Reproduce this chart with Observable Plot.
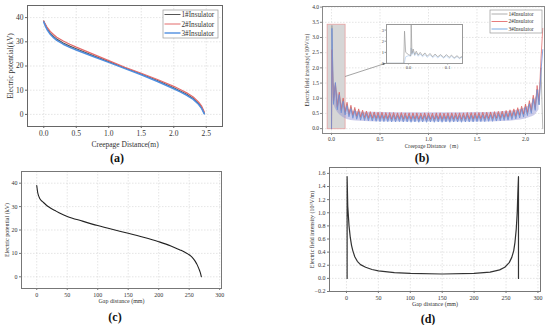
<!DOCTYPE html>
<html><head><meta charset="utf-8">
<script src="https://cdn.jsdelivr.net/npm/d3@7"></script>
<script src="https://cdn.jsdelivr.net/npm/@observablehq/plot@0.6"></script>
<style>
body{margin:0;background:#fff;}
#root{position:relative;width:550px;height:325px;overflow:hidden;font-family:"Liberation Serif","Times New Roman",serif;}
#root svg, #root svg text{font-family:"Liberation Serif","Times New Roman",serif !important;}
</style></head><body><div id="root"></div>
<script>
// ---------- data (a) ----------
const distA = [0, 0.02, 0.05, 0.1, 0.15, 0.2, 0.3, 0.4, 0.5, 0.75, 1.0, 1.25, 1.5, 1.75, 2.0, 2.1, 2.2, 2.3, 2.38, 2.43, 2.47];
const potA1 = [38.5, 37.2, 35.6, 33.6, 32.2, 31.1, 29.5, 28.2, 27.1, 24.4, 21.8, 19.2, 16.7, 14.0, 11.0, 9.7, 8.3, 6.6, 4.6, 2.8, 0.5];
const potA2 = [38.6, 37.5, 36.1, 34.3, 33.0, 31.9, 30.3, 29.0, 27.8, 25.0, 22.2, 19.5, 17.0, 14.4, 11.6, 10.3, 8.9, 7.2, 5.2, 3.4, 1.0];
const potA3 = [38.2, 36.8, 35.1, 33.1, 31.7, 30.6, 29.0, 27.7, 26.6, 24.0, 21.5, 18.9, 16.4, 13.6, 10.6, 9.3, 7.9, 6.2, 4.2, 2.4, 0.2];
const ticksAx = [0, 0.5, 1.0, 1.5, 2.0, 2.5];
const ticksAy = [0, 10, 20, 30, 40];
const seriesNames = ["1#Insulator", "2#Insulator", "3#Insulator"];

// ---------- data (b) ----------
const distB = [0.000, 0.004,
  0.02,0.04,0.06,0.08,0.10,0.12,0.14,0.16,0.18,0.20,
  0.22,0.24,0.26,0.28,0.30,0.32,0.34,0.36,0.38,0.40,
  0.42,0.44,0.46,0.48,0.50,0.52,0.54,0.56,0.58,0.60,
  0.62,0.64,0.66,0.68,0.70,0.72,0.74,0.76,0.78,0.80,
  0.82,0.84,0.86,0.88,0.90,0.92,0.94,0.96,0.98,1.00,
  1.02,1.04,1.06,1.08,1.10,1.12,1.14,1.16,1.18,1.20,
  1.22,1.24,1.26,1.28,1.30,1.32,1.34,1.36,1.38,1.40,
  1.42,1.44,1.46,1.48,1.50,1.52,1.54,1.56,1.58,1.60,
  1.62,1.64,1.66,1.68,1.70,1.72,1.74,1.76,1.78,1.80,
  1.82,1.84,1.86,1.88,1.90,1.92,1.94,1.96,1.98,2.00,
  2.02,2.04,2.06,2.08,2.10,2.12,2.14,
  2.160, 2.178];
const fieldB1 = [0.00, 3.40,
  0.85,1.45,0.68,1.15,0.58,0.96,0.50,0.82,0.44,0.72,
  0.40,0.65,0.36,0.60,0.34,0.56,0.32,0.53,0.31,0.51,
  0.30,0.50,0.29,0.49,0.28,0.49,0.28,0.48,0.28,0.48,
  0.27,0.48,0.27,0.47,0.28,0.48,0.27,0.47,0.27,0.47,
  0.26,0.47,0.27,0.47,0.26,0.46,0.27,0.47,0.26,0.47,
  0.27,0.46,0.26,0.47,0.27,0.47,0.26,0.46,0.27,0.47,
  0.26,0.47,0.27,0.47,0.27,0.47,0.26,0.47,0.27,0.48,
  0.27,0.48,0.27,0.48,0.28,0.48,0.28,0.49,0.28,0.49,
  0.29,0.50,0.29,0.51,0.30,0.52,0.31,0.53,0.32,0.55,
  0.33,0.57,0.35,0.60,0.37,0.64,0.40,0.69,0.43,0.76,
  0.48,0.86,0.55,1.02,0.64,1.30,0.80,
  2.00, 0.00];
const fieldB2 = [0.00, 2.60,
  0.90,1.50,0.72,1.20,0.62,1.01,0.54,0.87,0.48,0.77,
  0.44,0.70,0.41,0.65,0.39,0.61,0.37,0.58,0.36,0.56,
  0.35,0.55,0.34,0.54,0.33,0.54,0.33,0.53,0.33,0.53,
  0.32,0.53,0.32,0.52,0.33,0.53,0.32,0.52,0.32,0.52,
  0.31,0.52,0.32,0.52,0.31,0.51,0.32,0.52,0.31,0.52,
  0.32,0.51,0.31,0.52,0.32,0.52,0.31,0.51,0.32,0.52,
  0.31,0.52,0.32,0.52,0.32,0.52,0.31,0.52,0.32,0.53,
  0.32,0.53,0.32,0.53,0.33,0.53,0.33,0.54,0.33,0.54,
  0.34,0.55,0.34,0.56,0.35,0.57,0.36,0.58,0.37,0.60,
  0.38,0.62,0.40,0.65,0.42,0.69,0.45,0.74,0.48,0.81,
  0.53,0.92,0.60,1.10,0.70,1.42,0.90,
  2.30, 3.30];
const fieldB3 = [0.00, 3.30,
  0.80,1.52,0.62,1.12,0.52,0.90,0.45,0.76,0.39,0.66,
  0.34,0.59,0.31,0.54,0.28,0.50,0.27,0.48,0.26,0.46,
  0.25,0.45,0.24,0.44,0.23,0.44,0.23,0.43,0.23,0.43,
  0.22,0.43,0.22,0.42,0.23,0.43,0.22,0.42,0.22,0.42,
  0.21,0.42,0.22,0.42,0.21,0.41,0.22,0.42,0.21,0.42,
  0.22,0.41,0.21,0.42,0.22,0.42,0.21,0.41,0.22,0.42,
  0.21,0.42,0.22,0.42,0.22,0.42,0.21,0.42,0.22,0.43,
  0.22,0.43,0.22,0.43,0.23,0.43,0.23,0.44,0.23,0.44,
  0.24,0.45,0.24,0.46,0.25,0.47,0.26,0.48,0.27,0.50,
  0.28,0.52,0.30,0.55,0.32,0.59,0.35,0.64,0.38,0.71,
  0.43,0.81,0.50,0.98,0.60,1.28,0.78,
  1.90, 2.60];
// envelope of the densely oscillating band (troughs / peaks)
const envX  = [0.02, 0.06, 0.10, 0.14, 0.20, 0.30, 0.40, 1.00, 1.60, 1.80, 1.90, 2.00, 2.06, 2.10, 2.14];
const envLo = [0.80, 0.55, 0.42, 0.33, 0.27, 0.24, 0.23, 0.22, 0.22, 0.24, 0.27, 0.32, 0.38, 0.45, 0.62];
const envHi = [1.50, 1.20, 0.87, 0.70, 0.60, 0.55, 0.54, 0.52, 0.53, 0.56, 0.60, 0.69, 0.81, 0.98, 1.30];
const ticksBx = [0, 0.5, 1.0, 1.5, 2.0];
const ticksBy = [0, 0.5, 1.0, 1.5, 2.0, 2.5, 3.0, 3.5, 4.0];
// zoom window shown in the inset
const zoomX = [-0.04, 0.145];
const zoomY = [-0.02, 3.42];
// inset curve
const insetDist = [-0.056, -0.012, -0.010, -0.007, 0.000, 0.006, 0.007, 0.009, 0.012, 0.016, 0.020, 0.025, 0.030, 0.036, 0.042, 0.048, 0.055, 0.062, 0.068, 0.075, 0.082, 0.090, 0.097, 0.104, 0.110, 0.117, 0.124, 0.130, 0.138];
const insetField1 = [0.02, 0.02, 2.90, 1.00, 0.80, 0.70, 3.60, 0.90, 1.30, 0.80, 1.10, 0.75, 1.00, 0.70, 0.95, 0.65, 0.90, 0.60, 0.85, 0.60, 0.80, 0.55, 0.80, 0.55, 0.75, 0.50, 0.70, 0.50, 0.65];
const insetField3 = [0.02, 0.02, 0.10, 0.60, 0.70, 0.65, 1.40, 0.80, 1.10, 0.70, 0.95, 0.65, 0.85, 0.60, 0.80, 0.55, 0.78, 0.52, 0.72, 0.50, 0.70, 0.48, 0.68, 0.46, 0.65, 0.44, 0.62, 0.44, 0.58];
const ticksIx = [0, 0.1];
const ticksIy = [0, 1, 2, 3];

// ---------- data (c) ----------
const gapC = [0, 1, 2, 4, 6, 10, 15, 20, 30, 40, 50, 75, 100, 125, 150, 175, 200, 220, 235, 245, 250, 255, 260, 263, 266, 268, 270];
const potC = [39.0, 37.0, 35.5, 34.0, 33.0, 32.0, 30.8, 29.8, 28.3, 26.9, 25.8, 23.8, 21.9, 20.2, 18.6, 16.9, 15.0, 13.2, 11.5, 10.2, 9.4, 8.3, 6.6, 5.2, 3.4, 2.0, 0.0];
const ticksCx = [0, 50, 100, 150, 200, 250, 300];
const ticksCy = [0, 10, 20, 30, 40];

// ---------- data (d) ----------
const gapD = [1, 1, 2, 4, 6, 8, 10, 13, 17, 22, 30, 40, 50, 75, 100, 150, 200, 225, 240, 248, 255, 259, 262, 264, 266, 267.5, 268.5, 269.5, 269.5];
const fieldD = [0.0, 1.55, 1.10, 0.80, 0.62, 0.50, 0.42, 0.33, 0.26, 0.21, 0.17, 0.135, 0.115, 0.088, 0.075, 0.067, 0.075, 0.095, 0.13, 0.17, 0.24, 0.32, 0.42, 0.55, 0.75, 1.0, 1.3, 1.55, 0.0];
const ticksDx = [0, 50, 100, 150, 200, 250, 300];
const ticksDy = [-0.2, 0, 0.2, 0.4, 0.6, 0.8, 1.0, 1.2, 1.4, 1.6];

// ---------- helpers ----------
const root = document.getElementById("root");
const FONT = "'Liberation Serif', 'Times New Roman', serif";
function place(el, left, top) {
  el.style.position = "absolute";
  el.style.left = left + "px";
  el.style.top = top + "px";
  el.style.overflow = "visible";
  root.appendChild(el);
  return el;
}
const f1 = d3.format(".1f");
const gridStyle = {stroke: "#d4d4d4", strokeOpacity: 1, strokeDasharray: "1.5,1.5", strokeWidth: 0.6};
function axisLabels(xl, yl, dyX, dxY, fs) {
  return [
    Plot.text([xl], {frameAnchor: "bottom", dy: dyX, textAnchor: "middle", lineAnchor: "middle", fontSize: fs, text: d => d}),
    Plot.text([yl], {frameAnchor: "left", dx: dxY, rotate: -90, textAnchor: "middle", lineAnchor: "middle", fontSize: fs, text: d => d})
  ];
}

// ---------- (a) ----------
const colA = ["#555555", "#e36a6a", "#4f8ee0"];
const plotA = Plot.plot({
  width: 230, height: 150, marginLeft: 27, marginRight: 8, marginTop: 5, marginBottom: 24,
  style: {fontFamily: FONT, fontSize: "7.5px", background: "transparent", color: "#333"},
  x: {domain: [-0.25, 2.75]},
  y: {domain: [-5, 45]},
  marks: [
    Plot.gridX(ticksAx, gridStyle),
    Plot.gridY(ticksAy, gridStyle),
    Plot.line(distA, {x: distA, y: potA1, stroke: colA[0], strokeWidth: 1.2}),
    Plot.line(distA, {x: distA, y: potA2, stroke: colA[1], strokeWidth: 1.2}),
    Plot.line(distA, {x: distA, y: potA3, stroke: colA[2], strokeWidth: 1.5}),
    Plot.frame({stroke: "#666"}),
    Plot.axisX(ticksAx, {tickFormat: f1, tickSize: 2, tickPadding: 2, label: null, stroke: "#666"}),
    Plot.axisY(ticksAy, {tickSize: 2, tickPadding: 2, label: null, stroke: "#666"}),
    ...axisLabels("Creepage Distance(m)", "Electric potential(kV)", 18, -17, 7.5)
  ]
});
place(plotA, 0, 0);

// ---------- (b) ----------
const colB = ["#999999", "#e05a5a", "#86b2e6"];
const plotB = Plot.plot({
  width: 250, height: 152, marginLeft: 22, marginRight: 6, marginTop: 6, marginBottom: 19,
  style: {fontFamily: FONT, fontSize: "5.5px", background: "transparent", color: "#333"},
  x: {domain: [-0.093, 2.196]},
  y: {domain: [-0.16, 4.02]},
  marks: [
    Plot.gridX(ticksBx, gridStyle),
    Plot.gridY(ticksBy, gridStyle),
    Plot.rect([0], {x1: zoomX[0], x2: zoomX[1], y1: zoomY[0], y2: zoomY[1], fill: "#d6d6d6", stroke: "#e6a0a0", strokeWidth: 0.8}),
    Plot.areaY(envX, {x: envX, y1: envLo, y2: envHi, fill: "#8f8fd0", fillOpacity: 0.45, curve: "monotone-x"}),
    Plot.line(distB, {x: distB, y: fieldB1, stroke: colB[0], strokeWidth: 0.7, clip: true}),
    Plot.line(distB, {x: distB, y: fieldB2, stroke: colB[1], strokeWidth: 0.7, clip: true}),
    Plot.line(distB, {x: distB, y: fieldB3, stroke: "#6f8fd8", strokeWidth: 0.9, strokeOpacity: 0.9, clip: true}),
    Plot.frame({stroke: "#888"}),
    Plot.axisX(ticksBx, {tickFormat: f1, tickSize: 2, tickPadding: 1.5, label: null, stroke: "#888"}),
    Plot.axisY(ticksBy, {tickFormat: f1, tickSize: 2, tickPadding: 1.5, label: null, stroke: "#888"}),
    ...axisLabels("Creepage Distance（m）", "Electric field intensity(×10⁶V/m)", 13, -15, 5.5)
  ]
});
place(plotB, 300, 0);

// inset
const plotI = Plot.plot({
  width: 90, height: 52, marginLeft: 10, marginRight: 4, marginTop: 4, marginBottom: 9,
  style: {fontFamily: FONT, fontSize: "4.5px", background: "transparent", color: "#444"},
  x: {domain: [-0.056, 0.138]},
  y: {domain: [0, 3.5]},
  marks: [
    Plot.frame({fill: "white", stroke: "none"}),
    Plot.line(insetDist, {x: insetDist, y: insetField3, stroke: colB[2], strokeWidth: 0.6, strokeOpacity: 0.7, clip: true}),
    Plot.line(insetDist, {x: insetDist, y: insetField1, stroke: "#9a9a9a", strokeWidth: 0.7, clip: true}),
    Plot.frame({stroke: "#999"}),
    Plot.axisX(ticksIx, {tickFormat: f1, tickSize: 1.5, tickPadding: 1, label: null, stroke: "#999"}),
    Plot.axisY(ticksIy, {tickSize: 1.5, tickPadding: 1, label: null, stroke: "#999"})
  ]
});
place(plotI, 376, 20);

// ---------- (c) ----------
const plotC = Plot.plot({
  width: 230, height: 142, marginLeft: 21, marginRight: 9, marginTop: 6, marginBottom: 19,
  style: {fontFamily: FONT, fontSize: "6px", background: "transparent", color: "#333"},
  x: {domain: [-25, 303]},
  y: {domain: [-5, 45]},
  marks: [
    Plot.gridX(ticksCx, gridStyle),
    Plot.gridY(ticksCy, gridStyle),
    Plot.line(gapC, {x: gapC, y: potC, stroke: "#222", strokeWidth: 1.1, curve: "monotone-x"}),
    Plot.frame({stroke: "#777"}),
    Plot.axisX(ticksCx, {tickSize: 2, tickPadding: 2, label: null, stroke: "#777"}),
    Plot.axisY(ticksCy, {tickSize: 2, tickPadding: 2, label: null, stroke: "#777"}),
    ...axisLabels("Gap distance (mm)", "Electric potential (kV)", 13, -14, 6)
  ]
});
place(plotC, 0, 165);

// ---------- (d) ----------
const plotD = Plot.plot({
  width: 250, height: 145, marginLeft: 29, marginRight: 10, marginTop: 2, marginBottom: 19,
  style: {fontFamily: FONT, fontSize: "6px", background: "transparent", color: "#333"},
  x: {domain: [-26.6, 304]},
  y: {domain: [-0.2, 1.69]},
  marks: [
    Plot.gridX(ticksDx, gridStyle),
    Plot.gridY(ticksDy, gridStyle),
    Plot.line(gapD, {x: gapD, y: fieldD, stroke: "#333", strokeWidth: 1.2}),
    Plot.frame({stroke: "#777"}),
    Plot.axisX(ticksDx, {tickSize: 2, tickPadding: 2, label: null, stroke: "#777"}),
    Plot.axisY(ticksDy, {tickFormat: f1, tickSize: 2, tickPadding: 2, label: null, stroke: "#777"}),
    ...axisLabels("Gap distance (mm)", "Electric field intensity (10⁶V/m)", 13, -17, 6)
  ]
});
place(plotD, 300, 165);

// ---------- overlay: legends, connector, panel tags ----------
const ov = d3.select(root).append("svg")
  .attr("width", 550).attr("height", 325)
  .style("position", "absolute").style("left", "0px").style("top", "0px")
  .style("font-family", FONT);

// connector from zoom window to inset
const bx = plotB.scale("x"), by = plotB.scale("y");
const ix = plotI.scale("x"), iy = plotI.scale("y");
const x0 = 300 + bx.apply(zoomX[1]), y0 = by.apply(1.7);
const x1c = 376 + ix.apply(ix.domain[0]), y1c = 20 + iy.apply(iy.domain[0]);
ov.append("defs").append("marker").attr("id", "ah").attr("viewBox", "0 0 6 6")
  .attr("refX", 5).attr("refY", 3).attr("markerWidth", 4).attr("markerHeight", 4).attr("orient", "auto")
  .append("path").attr("d", "M0,0L6,3L0,6Z").attr("fill", "#666");
ov.append("line").attr("x1", x0).attr("y1", y0).attr("x2", x1c - 1).attr("y2", y1c + 0.5)
  .attr("stroke", "#666").attr("stroke-width", 0.6).attr("marker-end", "url(#ah)");

function legend(x, y, w, h, rowYs, lineLen, fs, cols, widths) {
  const g = ov.append("g");
  g.append("rect").attr("x", x).attr("y", y).attr("width", w).attr("height", h)
    .attr("fill", "white").attr("stroke", "#999").attr("stroke-width", 0.7);
  seriesNames.forEach((n, i) => {
    g.append("line").attr("x1", x + 1.5).attr("x2", x + 1.5 + lineLen)
      .attr("y1", rowYs[i]).attr("y2", rowYs[i]).attr("stroke", cols[i]).attr("stroke-width", widths[i]);
    g.append("text").attr("x", x + 2.5 + lineLen).attr("y", rowYs[i]).attr("dy", "0.35em")
      .attr("font-size", fs).attr("fill", "#333").text(n);
  });
}
legend(163, 10, 55, 28, [14.5, 24, 33], 16, 7.2, colA, [1, 1, 1.4]);
legend(490, 10, 52, 23, [14, 21.5, 29], 16, 5.5, colB, [0.8, 0.8, 1.1]);

[["(a)", 117, 158], ["(b)", 422, 158], ["(c)", 115, 317], ["(d)", 428, 319]].forEach(([t, x, y]) => {
  ov.append("text").attr("x", x).attr("y", y).attr("dy", "0.35em").attr("text-anchor", "middle")
    .attr("font-size", 12).attr("font-weight", "bold").attr("fill", "#111").text(t);
});
</script></body></html>
